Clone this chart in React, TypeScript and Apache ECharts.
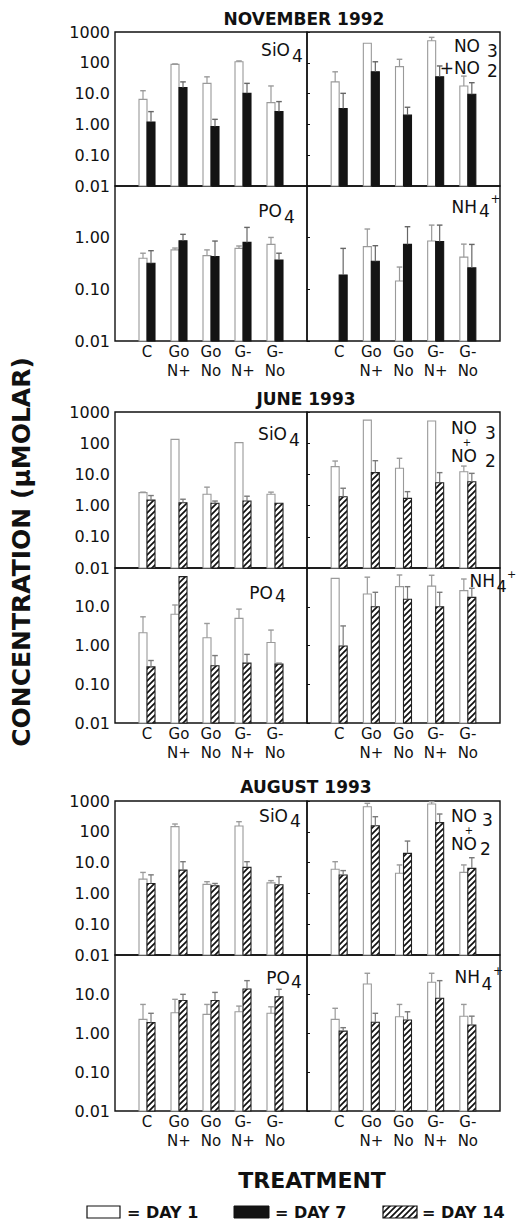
import React, { useEffect, useRef } from 'react';
import * as echarts from 'echarts';

// ---------- DATA ----------
const categories = ['', 'C', 'Go\nN+', 'Go\nNo', 'G-\nN+', 'G-\nNo', ''];
const sectionTitles = ['NOVEMBER 1992', 'JUNE 1993', 'AUGUST 1993'];
const legendLabels = ['= DAY 1', '= DAY 7', '= DAY 14'];
const tickLabelMap: Record<string, string> = { '-2': '0.01', '-1': '0.10', '0': '1.00', '1': '10.0', '2': '100', '3': '1000' };

// November 1992 (Day 1 / Day 7); "Up" = top of error bar
const novSiO4Day1 = [6.5, 89, 21.5, 108, 5.1];
const novSiO4Day1Up = [12.4, 92, 35, 115, 17.7];
const novSiO4Day7 = [1.2, 15.6, 0.85, 10.2, 2.6];
const novSiO4Day7Up = [2.6, 24, 1.46, 21.5, 5.5];
const novNO3Day1 = [24, 430, 75, 520, 17.7];
const novNO3Day1Up = [51, null, 130, 670, 37];
const novNO3Day7 = [3.3, 51, 2.0, 35, 9.5];
const novNO3Day7Up = [10.2, 108, 3.6, 79, 22.6];
const novPO4Day1 = [0.4, 0.58, 0.45, 0.62, 0.74];
const novPO4Day1Up = [0.5, 0.63, 0.58, 0.69, 1.01];
const novPO4Day7 = [0.32, 0.87, 0.43, 0.81, 0.37];
const novPO4Day7Up = [0.56, 1.16, 0.86, 1.58, 0.5];
const novNH4Day1 = [null, 0.67, 0.145, 0.86, 0.42];
const novNH4Day1Up = [null, 1.47, 0.27, 1.75, 0.75];
const novNH4Day7 = [0.19, 0.35, 0.74, 0.84, 0.26];
const novNH4Day7Up = [0.62, 0.7, 1.63, 1.75, 0.74];

// June 1993 (Day 1 / Day 14)
const junSiO4Day1 = [2.6, 133, 2.3, 104, 2.3];
const junSiO4Day1Up = [2.7, null, 3.9, null, 2.7];
const junSiO4Day14 = [1.5, 1.24, 1.19, 1.4, 1.19];
const junSiO4Day14Up = [2.1, 1.6, 1.4, 2.0, null];
const junNO3Day1 = [17.7, 550, 15.7, 515, 12.2];
const junNO3Day1Up = [26.8, null, 32.8, null, 18.5];
const junNO3Day14 = [1.93, 11.4, 1.71, 5.4, 5.8];
const junNO3Day14Up = [3.6, 27.5, 2.8, 11.4, 10.8];
const junPO4Day1 = [2.14, 6.4, 1.59, 5.0, 1.2];
const junPO4Day1Up = [5.5, 11.1, 3.7, 8.7, 2.5];
const junPO4Day14 = [0.28, 60, 0.3, 0.35, 0.33];
const junPO4Day14Up = [0.41, null, 0.55, 0.59, 0.35];
const junNH4Day1 = [54, 21.3, 33, 34, 26];
const junNH4Day1Up = [null, 58, 66, 65, 52];
const junNH4Day14 = [0.97, 10, 15.6, 10, 17.5];
const junNH4Day14Up = [3.2, 23.6, 33, 23.6, 30];

// August 1993 (Day 1 / Day 14)
const augSiO4Day1 = [2.9, 147, 1.97, 154, 2.2];
const augSiO4Day1Up = [4.8, 179, 2.4, 213, 2.6];
const augSiO4Day14 = [2.1, 5.7, 1.78, 7.0, 1.9];
const augSiO4Day14Up = [4.0, 10.7, 2.1, 10.7, 3.5];
const augNO3Day1 = [6.1, 650, 4.5, 800, 4.8];
const augNO3Day1Up = [10.7, 840, 8.4, 950, 8.4];
const augNO3Day14 = [3.96, 158, 20, 198, 6.5];
const augNO3Day14Up = [5.5, 309, 50, 378, 14.4];
const augPO4Day1 = [2.24, 3.3, 3.0, 3.5, 3.2];
const augPO4Day1Up = [5.4, 7.3, 5.4, 4.9, 4.7];
const augPO4Day14 = [1.84, 6.8, 6.8, 13.4, 8.5];
const augPO4Day14Up = [3.2, 9.8, 11, 22, 13.2];
const augNH4Day1 = [2.24, 18, 2.6, 20, 2.7];
const augNH4Day1Up = [4.3, 34, 5.4, 34, 5.4];
const augNH4Day14 = [1.12, 1.88, 2.15, 7.8, 1.6];
const augNH4Day14Up = [1.37, 3.2, 3.5, 22, 2.7];

// panel order per section: SiO4 (top-left), NO3+NO2 (top-right), PO4 (bottom-left), NH4+ (bottom-right)
const sectionData = [
  [
    [novSiO4Day1, novSiO4Day1Up, novSiO4Day7, novSiO4Day7Up],
    [novNO3Day1, novNO3Day1Up, novNO3Day7, novNO3Day7Up],
    [novPO4Day1, novPO4Day1Up, novPO4Day7, novPO4Day7Up],
    [novNH4Day1, novNH4Day1Up, novNH4Day7, novNH4Day7Up],
  ],
  [
    [junSiO4Day1, junSiO4Day1Up, junSiO4Day14, junSiO4Day14Up],
    [junNO3Day1, junNO3Day1Up, junNO3Day14, junNO3Day14Up],
    [junPO4Day1, junPO4Day1Up, junPO4Day14, junPO4Day14Up],
    [junNH4Day1, junNH4Day1Up, junNH4Day14, junNH4Day14Up],
  ],
  [
    [augSiO4Day1, augSiO4Day1Up, augSiO4Day14, augSiO4Day14Up],
    [augNO3Day1, augNO3Day1Up, augNO3Day14, augNO3Day14Up],
    [augPO4Day1, augPO4Day1Up, augPO4Day14, augPO4Day14Up],
    [augNH4Day1, augNH4Day1Up, augNH4Day14, augNH4Day14Up],
  ],
];
const secondDayKind = ['day7', 'day14', 'day14'];

// ---------- LAYOUT ----------
const FONT = 'DejaVu Sans';
const INK = '#111';
const LEFT_X = 115;
const MID_X = 307;
const RIGHT_X = 500;
const layouts = [
  { top: 32, mid: 186, bottom: 341, lowMax: 10 },
  { top: 412, mid: 568, bottom: 723, lowMax: 100 },
  { top: 801, mid: 955, bottom: 1111, lowMax: 100 },
];
const BAR_W = 8;

const hatchUrl =
  'data:image/svg+xml;utf8,' +
  encodeURIComponent(
    "<svg xmlns='http://www.w3.org/2000/svg' width='6' height='6'><rect width='6' height='6' fill='#ffffff'/><path d='M0,6 L6,0 M-1,1 L1,-1 M5,7 L7,5' stroke='#111111' stroke-width='1.7'/></svg>"
  );
const hatch: any = { image: hatchUrl, repeat: 'repeat', imageWidth: 6, imageHeight: 6 };

const kindStyle: Record<string, any> = {
  day1: { fill: '#ffffff', stroke: '#9a9a9a', err: '#9a9a9a' },
  day7: { fill: '#141414', stroke: '#141414', err: '#666666' },
  day14: { fill: hatch, stroke: '#222222', err: '#7a7a7a' },
};

function makeSeries(axisIdx: number, values: (number | null)[], ups: (number | null)[], kind: string, offset: number) {
  const data: number[][] = [];
  values.forEach((v, i) => {
    if (v == null) return;
    const u = ups[i];
    data.push([i + 1, v, u == null ? -1 : u]);
  });
  const st = kindStyle[kind];
  return {
    type: 'custom',
    xAxisIndex: axisIdx,
    yAxisIndex: axisIdx,
    encode: { x: 0, y: 1 },
    silent: true,
    data,
    renderItem: (params: any, api: any) => {
      const x = api.value(0);
      const v = api.value(1);
      const up = api.value(2);
      const p = api.coord([x, v]);
      const b = api.coord([x, 0.01]);
      const cx = p[0] + offset;
      const children: any[] = [
        {
          type: 'rect',
          shape: { x: cx - BAR_W / 2, y: p[1], width: BAR_W, height: b[1] - p[1] },
          style: { fill: st.fill, stroke: st.stroke, lineWidth: 1.1 },
        },
      ];
      if (up > v) {
        const u = api.coord([x, up]);
        children.push(
          { type: 'line', shape: { x1: cx, y1: p[1], x2: cx, y2: u[1] }, style: { stroke: st.err, lineWidth: 1.2 } },
          { type: 'line', shape: { x1: cx - 2.8, y1: u[1], x2: cx + 2.8, y2: u[1] }, style: { stroke: st.err, lineWidth: 1.4 } }
        );
      }
      return { type: 'group', children };
    },
  };
}

function txt(text: string, x: number, y: number, opts: any = {}) {
  return {
    type: 'text',
    x,
    y,
    silent: true,
    rotation: opts.rotation || 0,
    style: {
      text,
      fill: INK,
      fontFamily: FONT,
      fontSize: opts.size || 17,
      fontWeight: opts.weight || 'normal',
      textAlign: opts.align || 'left',
      textVerticalAlign: 'middle',
    },
  };
}

function buildOption() {
  const grids: any[] = [];
  const xAxes: any[] = [];
  const yAxes: any[] = [];
  const series: any[] = [];

  layouts.forEach((L, si) => {
    for (let row = 0; row < 2; row++) {
      for (let col = 0; col < 2; col++) {
        const idx = grids.length;
        const top = row === 0 ? L.top : L.mid;
        const bottom = row === 0 ? L.mid : L.bottom;
        const max = row === 0 ? 1000 : L.lowMax;
        grids.push({
          left: col === 0 ? LEFT_X : MID_X,
          width: col === 0 ? MID_X - LEFT_X : RIGHT_X - MID_X,
          top,
          height: bottom - top,
          show: true,
          borderColor: INK,
          borderWidth: 1.4,
          backgroundColor: 'transparent',
          containLabel: false,
          outerBoundsMode: 'none',
        });
        xAxes.push({
          gridIndex: idx,
          type: 'category',
          data: categories,
          boundaryGap: false,
          axisLine: { show: false },
          axisTick: { show: false },
          splitLine: { show: false },
          axisLabel: {
            show: row === 1,
            interval: 0,
            fontFamily: FONT,
            fontSize: 15,
            lineHeight: 18.5,
            color: INK,
            margin: 2,
          },
        });
        yAxes.push({
          gridIndex: idx,
          type: 'log',
          logBase: 10,
          min: 0.01,
          max,
          axisLine: { show: false },
          splitLine: { show: false },
          axisTick: { show: col === 1, inside: true, length: 3, lineStyle: { color: INK, width: 1 } },
          axisLabel: {
            show: col === 0,
            fontFamily: FONT,
            fontSize: 16,
            color: INK,
            margin: 5,
            showMinLabel: true,
            showMaxLabel: row === 0,
            formatter: (val: number) => tickLabelMap[String(Math.round(Math.log10(val)))] || '',
          },
        });
        const d = sectionData[si][row * 2 + col];
        series.push(makeSeries(idx, d[0], d[1], 'day1', -BAR_W / 2));
        series.push(makeSeries(idx, d[2], d[3], secondDayKind[si], BAR_W / 2));
      }
    }
  });

  const sub = (t: string, x: number, y: number, size = 17) => txt(t, x, y, { size });
  const elements: any[] = [
    // section titles
    txt(sectionTitles[0], 304, 18.5, { size: 17, weight: 'bold', align: 'center' }),
    txt(sectionTitles[1], 306, 399, { size: 17, weight: 'bold', align: 'center' }),
    txt(sectionTitles[2], 306, 787, { size: 17, weight: 'bold', align: 'center' }),
    // November labels
    txt('SiO', 290, 49.5, { align: 'right' }), sub('4', 292, 56),
    txt('NO', 480, 45.5, { align: 'right' }), sub('3', 487, 51),
    txt('+NO', 480, 67.5, { align: 'right' }), sub('2', 487, 71),
    txt('PO', 282, 211, { align: 'right' }), sub('4', 284, 217),
    txt('NH', 477, 206.5, { align: 'right' }), sub('4', 479, 211), txt('+', 490.5, 199, { size: 12 }),
    // June labels
    txt('SiO', 287, 434, { align: 'right' }), sub('4', 289, 440),
    txt('NO', 477, 428, { align: 'right' }), sub('3', 485, 433),
    txt('+', 467, 442, { size: 10, align: 'center' }),
    txt('NO', 477, 456, { align: 'right' }), sub('2', 485, 461),
    txt('PO', 273, 592.5, { align: 'right' }), sub('4', 275, 596),
    txt('NH', 495, 580.5, { align: 'right' }), sub('4', 496.5, 586, 16), txt('+', 507, 574, { size: 11 }),
    // August labels
    txt('SiO', 288, 816, { align: 'right' }), sub('4', 290, 821),
    txt('NO', 477, 815.5, { align: 'right' }), sub('3', 482, 820),
    txt('+', 469, 830, { size: 10, align: 'center' }),
    txt('NO', 477, 844, { align: 'right' }), sub('2', 480, 849),
    txt('PO', 290, 977.5, { align: 'right' }), sub('4', 291, 982),
    txt('NH', 480, 976.5, { align: 'right' }), sub('4', 481.5, 983.5), txt('+', 493, 971, { size: 12 }),
    // axis titles
    txt('TREATMENT', 312, 1180, { size: 22, weight: 'bold', align: 'center' }),
    txt('CONCENTRATION (µMOLAR)', 21, 552, { size: 25, weight: 'bold', align: 'center', rotation: Math.PI / 2 }),
    // legend
    { type: 'rect', shape: { x: 87, y: 1206, width: 33, height: 12 }, style: { fill: '#fff', stroke: INK, lineWidth: 1.2 } },
    txt(legendLabels[0], 127, 1212, { size: 16, weight: 'bold' }),
    { type: 'rect', shape: { x: 234, y: 1206, width: 35, height: 12 }, style: { fill: '#141414', stroke: INK, lineWidth: 1 } },
    txt(legendLabels[1], 275, 1212, { size: 16, weight: 'bold' }),
    { type: 'rect', shape: { x: 383, y: 1206, width: 34, height: 12 }, style: { fill: hatch, stroke: INK, lineWidth: 1.2 } },
    txt(legendLabels[2], 422, 1212, { size: 16, weight: 'bold' }),
  ];

  return {
    animation: false,
    backgroundColor: '#ffffff',
    grid: grids,
    xAxis: xAxes,
    yAxis: yAxes,
    series,
    graphic: { elements },
  };
}

export default function App() {
  const ref = useRef<HTMLDivElement>(null);
  useEffect(() => {
    if (!ref.current) return;
    const chart = echarts.init(ref.current, null, { renderer: 'svg' });
    chart.setOption(buildOption() as any);
    return () => chart.dispose();
  }, []);
  return (
    <div
      ref={ref}
      style={{ position: 'fixed', left: 0, top: 0, width: 517, height: 1224, background: '#fff' }}
    />
  );
}
